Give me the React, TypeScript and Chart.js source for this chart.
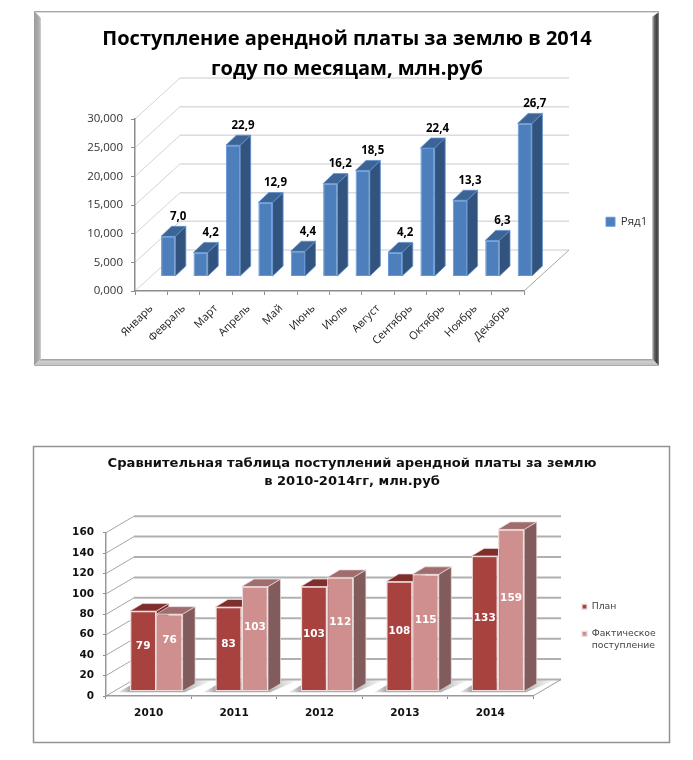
import React, { useEffect, useRef } from "react";
import { Chart, registerables } from "chart.js";

Chart.register(...registerables);

const months = ["Январь", "Февраль", "Март", "Апрель", "Май", "Июнь", "Июль", "Август", "Сентябрь", "Октябрь", "Ноябрь", "Декабрь"];
const monthlyValues = [7.0, 4.2, 22.9, 12.9, 4.4, 16.2, 18.5, 4.2, 22.4, 13.3, 6.3, 26.7];
const monthlySeries = "Ряд1";
const monthlyTitle = ["Поступление арендной платы за землю в 2014", "году по месяцам, млн.руб"];

const years = ["2010", "2011", "2012", "2013", "2014"];
const planValues = [79, 83, 103, 108, 133];
const factValues = [76, 103, 112, 115, 159];
const planSeries = "План";
const factSeries = ["Фактическое", "поступление"];
const yearlyTitle = ["Сравнительная таблица поступлений арендной платы за землю", "в 2010-2014гг, млн.руб"];

const CALIBRI = "'Open Sans', 'Noto Sans', sans-serif";
const VERDANA = "'DejaVu Sans', sans-serif";

function poly(ctx: CanvasRenderingContext2D, pts: number[][], fill: string | CanvasGradient, stroke?: string, lw = 1) {
  ctx.beginPath();
  pts.forEach((p, i) => (i ? ctx.lineTo(p[0], p[1]) : ctx.moveTo(p[0], p[1])));
  ctx.closePath();
  if (fill) { ctx.fillStyle = fill; ctx.fill(); }
  if (stroke) { ctx.strokeStyle = stroke; ctx.lineWidth = lw; ctx.stroke(); }
}

function line(ctx: CanvasRenderingContext2D, x1: number, y1: number, x2: number, y2: number, c: string, lw: number) {
  ctx.beginPath();
  ctx.moveTo(x1, y1);
  ctx.lineTo(x2, y2);
  ctx.strokeStyle = c;
  ctx.lineWidth = lw;
  ctx.stroke();
}

type Cfg = {
  wall: [number, number];
  gridColor: string;
  gridWidth: number;
  sideColor: string;
  floorColor: string;
  shift: [number, number];
  depth: [number, number];
  sides: { top: string; side: string; edge: string; edgeWidth: number }[];
  frame: (ctx: CanvasRenderingContext2D) => void;
  labels: (ctx: CanvasRenderingContext2D, chart: any, dsIndex: number, el: any, v: number) => void;
  shadow?: boolean;
  legendBox: { left: number; top: number };
  titleCenter: number;
};

function scene(cfg: Cfg) {
  return {
    id: "scene",
    afterLayout(chart: any) {
      const w = chart.width;
      if (chart.titleBlock) {
        chart.titleBlock.left = cfg.titleCenter - w / 2;
        chart.titleBlock.right = cfg.titleCenter + w / 2;
      }
      const lg = chart.legend;
      const lw = lg.width, lh = lg.height;
      lg.left = cfg.legendBox.left;
      lg.right = lg.left + lw;
      lg.top = cfg.legendBox.top;
      lg.bottom = lg.top + lh;
    },
    beforeDraw(chart: any) {
      const ctx = chart.ctx;
      ctx.save();
      cfg.frame(ctx);
      const { left, right, bottom } = chart.chartArea;
      const [dx, dy] = cfg.wall;
      const y = chart.scales.y;
      y.ticks.forEach((t: any) => {
        const py = y.getPixelForValue(t.value);
        line(ctx, left, py, left + dx, py + dy, cfg.sideColor, 1);
        line(ctx, left + dx, py + dy, right + dx, py + dy, cfg.gridColor, cfg.gridWidth);
      });
      line(ctx, right, bottom, right + dx, bottom + dy, cfg.floorColor, 1);
      ctx.restore();
    },
    beforeDatasetsDraw(chart: any) {
      const ctx = chart.ctx;
      const [sx, sy] = cfg.shift;
      const [ddx, ddy] = cfg.depth;
      if (cfg.shadow) {
        const metaA = chart.getDatasetMeta(0).data;
        const metaB = chart.getDatasetMeta(1).data;
        metaA.forEach((a: any, i: number) => {
          const b = metaB[i];
          const x0 = a.x - a.width / 2 + sx, x1 = b.x + b.width / 2 + sx, yb = a.base + sy;
          const g = ctx.createLinearGradient(x0 - 12, 0, x1 + 28, 0);
          g.addColorStop(0, "rgba(185,185,185,0.25)");
          g.addColorStop(0.12, "rgba(150,150,150,0.8)");
          g.addColorStop(0.7, "rgba(150,150,150,0.85)");
          g.addColorStop(1, "rgba(200,200,200,0.15)");
          poly(ctx, [[x0 - 12, yb + 1], [x1 + 2, yb + 1], [x1 + 28, yb - 10], [x1 + 8, yb - 13], [x0 + 4, yb - 8]], g);
        });
      }
      chart.data.datasets.forEach((_: any, di: number) => {
        const meta = chart.getDatasetMeta(di);
        const s = cfg.sides[di];
        ctx.save();
        ctx.translate(sx, sy);
        meta.data.forEach((el: any) => {
          const l = el.x - el.width / 2, r = el.x + el.width / 2, t = el.y, b = el.base;
          poly(ctx, [[r, t], [r + ddx, t + ddy], [r + ddx, b + ddy], [r, b]], s.side, s.edge, s.edgeWidth);
          poly(ctx, [[l, t], [l + ddx, t + ddy], [r + ddx, t + ddy], [r, t]], s.top, s.edge, s.edgeWidth);
        });
        meta.controller.draw();
        ctx.restore();
      });
      chart.data.datasets.forEach((ds: any, di: number) => {
        chart.getDatasetMeta(di).data.forEach((el: any, i: number) => {
          ctx.save();
          ctx.translate(sx, sy);
          cfg.labels(ctx, chart, di, el, ds.data[i]);
          ctx.restore();
        });
      });
      return false;
    },
  };
}

function frameBevel(ctx: CanvasRenderingContext2D) {
  const L = 34, T = 11, R = 659, B = 366;
  const W = 7;
  ctx.fillStyle = "#ffffff";
  ctx.fillRect(L, T, R - L, B - T);
  const gl = ctx.createLinearGradient(L, 0, L + W, 0);
  gl.addColorStop(0, "#9c9c9c");
  gl.addColorStop(0.7, "#adadad");
  gl.addColorStop(1, "#d2d2d2");
  poly(ctx, [[L, T], [L + W, T + W], [L + W, B - W], [L, B]], gl);
  const gr = ctx.createLinearGradient(R - W, 0, R, 0);
  gr.addColorStop(0, "#dcdcdc");
  gr.addColorStop(0.3, "#6c6c6c");
  gr.addColorStop(0.7, "#3c3c3c");
  gr.addColorStop(1, "#8a8a8a");
  poly(ctx, [[R, T + 1], [R - W, T + 6], [R - W, B - W], [R, B]], gr);
  const gb = ctx.createLinearGradient(0, B - W, 0, B);
  gb.addColorStop(0, "#9a9a9a");
  gb.addColorStop(0.35, "#cdcdcd");
  gb.addColorStop(0.8, "#c4c4c4");
  gb.addColorStop(1, "#9c9c9c");
  poly(ctx, [[L, B], [L + W, B - W], [R - W, B - W], [R, B]], gb);
  ctx.fillStyle = "#a8a8a8";
  ctx.fillRect(L, T, R - L, 1.4);
}

function frameLine(ctx: CanvasRenderingContext2D) {
  ctx.fillStyle = "#ffffff";
  ctx.fillRect(33, 46, 637, 297);
  ctx.strokeStyle = "#929292";
  ctx.lineWidth = 1.5;
  ctx.strokeRect(33.5, 46.5, 636, 296);
}

const scene1 = scene({
  wall: [45, -41],
  gridColor: "#dcdcdc",
  gridWidth: 1.5,
  sideColor: "#d4d4d4",
  floorColor: "#a8a8a8",
  shift: [17, -14.5],
  depth: [10.5, -10],
  sides: [{ top: "#3c6595", side: "#31537e", edge: "#5e90cf", edgeWidth: 0.8 }],
  frame: frameBevel,
  legendBox: { left: 596, top: 206 },
  titleCenter: 347,
  labels(ctx, _c, _d, el, v) {
    ctx.font = `bold 11.5px ${CALIBRI}`;
    ctx.fillStyle = "#000";
    ctx.textAlign = "center";
    ctx.textBaseline = "middle";
    ctx.fillText(v.toFixed(1).replace(".", ","), el.x + 10, el.y - 19.5);
  },
});

const scene2 = scene({
  wall: [28, -16.5],
  gridColor: "#b0b0b0",
  gridWidth: 2,
  sideColor: "#a6a6a6",
  floorColor: "#9a9a9a",
  shift: [7.6, -4.3],
  depth: [12.5, -7.5],
  sides: [
    { top: "#7f2e2c", side: "#7f2e2c", edge: "#ecdada", edgeWidth: 0.7 },
    { top: "#a06c6d", side: "#825b5c", edge: "#ecdada", edgeWidth: 0.7 },
  ],
  frame: frameLine,
  shadow: true,
  legendBox: { left: 564, top: 184 },
  titleCenter: 352,
  labels(ctx, _c, di, el, v) {
    ctx.font = `bold 10.5px ${VERDANA}`;
    ctx.fillStyle = "#fff";
    ctx.textAlign = "center";
    ctx.textBaseline = "middle";
    ctx.fillText(String(v), el.x, (el.y + el.base) / 2 - (di === 0 ? 5 : 12));
  },
});

function buildMonthly(canvas: HTMLCanvasElement) {
  return new Chart(canvas, {
    type: "bar",
    data: {
      labels: months,
      datasets: [{
        label: monthlySeries,
        data: monthlyValues,
        backgroundColor: "#4d7fbc",
        borderColor: "#6497d6",
        borderWidth: 1,
        borderSkipped: false,
        categoryPercentage: 1,
        barPercentage: 0.44,
      }],
    },
    options: {
      responsive: false,
      animation: false,
      devicePixelRatio: 1,
      layout: { padding: { top: 24, right: 169, left: 0, bottom: 0 } },
      plugins: {
        tooltip: { enabled: false },
        title: {
          display: true,
          text: monthlyTitle,
          color: "#000",
          font: { family: CALIBRI, size: 20, weight: "bold", lineHeight: 1.5 },
          padding: { top: 0, bottom: 35 },
        },
        legend: {
          position: "chartArea",
          align: "start",
          labels: { boxWidth: 9, boxHeight: 9, font: { family: CALIBRI, size: 11.5 }, color: "#333", padding: 10 },
        },
      },
      scales: {
        x: {
          afterFit: (s: any) => { s.height = 109; },
          grid: { drawOnChartArea: false, tickLength: 4, color: "#8c8c8c", lineWidth: 1 },
          border: { color: "#8c8c8c", width: 1.5 },
          ticks: { minRotation: 45, maxRotation: 45, autoSkip: false, color: "#222", padding: 7, font: { family: CALIBRI, size: 11 } },
        },
        y: {
          min: 0,
          max: 30,
          afterFit: (s: any) => { s.width = 135; },
          grid: { drawOnChartArea: false, tickLength: 4, color: "#8c8c8c", lineWidth: 1 },
          border: { color: "#8c8c8c", width: 1.5 },
          ticks: {
            stepSize: 5,
            color: "#333",
            padding: 8,
            font: { family: CALIBRI, size: 11.5 },
            callback: (v: any) => Number(v).toFixed(3).replace(".", ","),
          },
        },
      },
    },
    plugins: [scene1],
  } as any);
}

function buildYearly(canvas: HTMLCanvasElement) {
  const common = { borderColor: "#efdcdc", borderWidth: 1.3, borderSkipped: false, categoryPercentage: 0.616, barPercentage: 1 };
  return new Chart(canvas, {
    type: "bar",
    data: {
      labels: years,
      datasets: [
        { label: planSeries, data: planValues, backgroundColor: "#a8423f", ...common },
        { label: factSeries, data: factValues, backgroundColor: "#cf8f8f", ...common },
      ],
    },
    options: {
      responsive: false,
      animation: false,
      devicePixelRatio: 1,
      layout: { padding: { top: 55, right: 160, left: 0, bottom: 0 } },
      plugins: {
        tooltip: { enabled: false },
        title: {
          display: true,
          text: yearlyTitle,
          color: "#111",
          font: { family: VERDANA, size: 13.1, weight: "bold", lineHeight: 1.374 },
          padding: { top: 0, bottom: 41.7 },
        },
        legend: {
          position: "chartArea",
          align: "start",
          labels: { boxWidth: 5, boxHeight: 5, font: { family: VERDANA, size: 9.3, lineHeight: 1.29 }, color: "#444", padding: 18 },
        },
      },
      scales: {
        x: {
          afterFit: (s: any) => { s.height = 64; },
          grid: { drawOnChartArea: false, tickLength: 3, color: "#8c8c8c", lineWidth: 1 },
          border: { color: "#999", width: 1.5 },
          ticks: { maxRotation: 0, color: "#111", padding: 8, font: { family: VERDANA, size: 10.5, weight: "bold" } },
        },
        y: {
          min: 0,
          max: 160,
          afterFit: (s: any) => { s.width = 106; },
          grid: { drawOnChartArea: false, tickLength: 3, color: "#8c8c8c", lineWidth: 1 },
          border: { color: "#999", width: 1.5 },
          ticks: { stepSize: 20, color: "#111", padding: 9, font: { family: VERDANA, size: 10.5, weight: "bold" } },
        },
      },
    },
    plugins: [scene2],
  } as any);
}

export default function App() {
  const a = useRef<HTMLCanvasElement | null>(null);
  const b = useRef<HTMLCanvasElement | null>(null);
  useEffect(() => {
    const c1 = buildMonthly(a.current!);
    const c2 = buildYearly(b.current!);
    return () => { c1.destroy(); c2.destroy(); };
  }, []);
  return (
    <div style={{ position: "absolute", left: 0, top: 0, width: 693, height: 760, background: "#fff", overflow: "hidden" }}>
      <canvas ref={a} width={693} height={400} style={{ position: "absolute", left: 0, top: 0, width: 693, height: 400 }} />
      <canvas ref={b} width={693} height={360} style={{ position: "absolute", left: 0, top: 400, width: 693, height: 360 }} />
    </div>
  );
}
